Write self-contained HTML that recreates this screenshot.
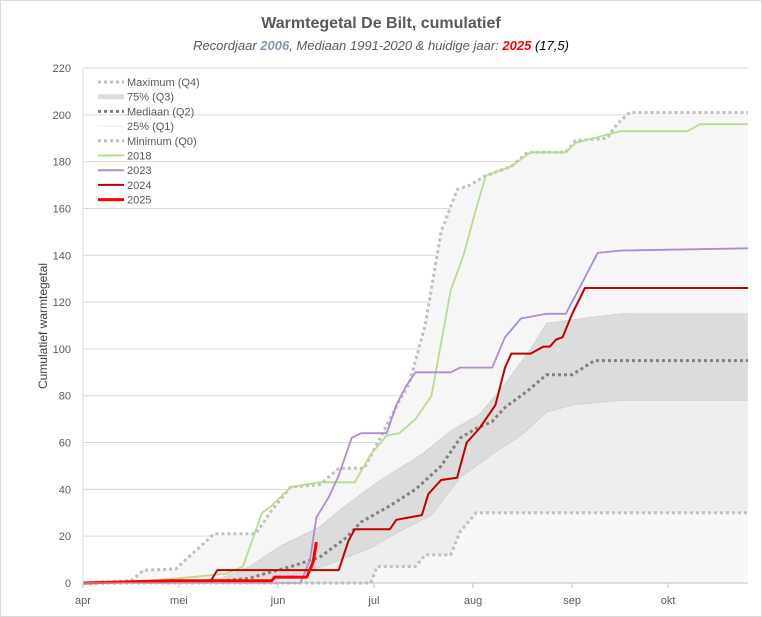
<!DOCTYPE html>
<html><head><meta charset="utf-8"><style>
body{margin:0;background:#fff;font-family:"Liberation Sans",sans-serif}
#c{position:absolute;left:0;top:0;width:760px;height:615px;border:1px solid #d9d9d9}
</style></head><body>
<div id="c">
<svg id="s" width="762" height="617" style="position:absolute;left:-1px;top:-1px"></svg>
</div>
<script>
const months=["apr","mei","jun","jul","aug","sep","okt"];
const monthDays=[0,30,61,91,122,153,183];
const yTicks=[0,20,40,60,80,100,120,140,160,180,200,220];
const q4=[[0,0],[15,1],[19,5.5],[29,6],[41,21],[54,21],[59,31],[65,41],[74,42],[80,49],[88,49],[96,70],[99,78],[102,85],[107,110],[112,150],[117,168],[121,170],[126,174],[134,178],[139,184],[151,184],[154,189],[164,190],[167,196],[171,201],[208,201]];
const q3=[[0,0],[30,0.5],[43,2],[52,7],[62,16],[74,24],[82,33],[93,44],[106,55],[115,65],[124,72],[132,85],[140,100],[145,111],[156,113],[168,115],[208,115]];
const q2=[[0,0],[40,0.5],[52,2],[57,4],[65,7],[74,11],[82,19],[87,26],[96,33],[104,40],[112,50],[118,62],[123,66],[128,69],[132,75],[139,82],[145,89],[153,89],[160,95],[168,95],[208,95]];
const q1=[[0,0],[50,0],[59,1],[68,4],[77,8],[90,15],[99,22],[109,29],[118,45],[128,55],[137,63],[145,73],[153,76],[168,78],[208,78]];
const q0=[[0,0],[90,0],[92,7],[104,7],[107,12],[115,12],[118,22],[123,30],[208,30]];
const y2018=[[0,0],[20,1],[30,2],[45,4],[50,7],[56,30],[59,33],[65,41],[74,43],[85,43],[90,55],[95,63],[99,64],[104,70],[109,80],[113,110],[115,125],[119,140],[123,160],[126,174],[134,178],[140,184],[151,184],[154,188],[168,193],[189,193],[193,196],[208,196]];
const y2023=[[0,0],[68,0],[71,10],[73,28],[77,37],[80,46],[84,62],[87,64],[95,64],[98,76],[101,84],[104,90],[115,90],[118,92],[128,92],[132,105],[137,113],[145,115],[151,115],[156,128],[161,141],[168,142],[208,143]];
const y2024=[[0,0],[28,1],[40,1],[42,5.5],[80,5.5],[83,18],[85,23],[96,23],[98,27],[106,29],[108,38],[112,44],[117,45],[120,60],[124,66],[129,76],[132,92],[134,98],[140,98],[144,101],[146,101],[148,104],[150,105],[153,115],[157,126],[208,126]];
const y2025=[[0,0],[28,1],[59,1],[60,2.5],[70,2.5],[72,9],[73,17.5]];

const X0=83,X1=748,Y0=583,Y1=68;
const xs=d=>X0+d*(X1-X0)/208;
const ys=v=>Y0-v*(Y0-Y1)/220;
const S=document.getElementById('s');const NS="http://www.w3.org/2000/svg";
function el(t,a,p){const e=document.createElementNS(NS,t);for(const k in a)e.setAttribute(k,a[k]);(p||S).appendChild(e);return e;}
function pts(d){return d.map(p=>xs(p[0]).toFixed(1)+","+ys(p[1]).toFixed(1)).join(" ");}
function area(d,fill,name){const p=el('polygon',{points:pts(d)+" "+xs(d[d.length-1][0])+","+Y0+" "+xs(d[0][0])+","+Y0,fill:fill});
}
function line(d,stroke,w,dash,name){const p=el('polyline',{points:pts(d),fill:'none',stroke:stroke,'stroke-width':w,'stroke-dasharray':dash||'none','stroke-linejoin':'round'});
}
function text(x,y,s,a,name){const t=el('text',a);t.setAttribute('x',x);t.setAttribute('y',y);t.textContent=s;return t;}

yTicks.forEach(v=>{const g=el('line',{x1:X0,x2:X1,y1:ys(v),y2:ys(v),stroke:'#d9d9d9','stroke-width':1});

text(71,ys(v)+4,v,{'font-size':11,fill:'#595959','text-anchor':'end'},'y-tick-label');});
area(q4,'#f6f6f6','area-max');
area(q3,'#dcdcdc','area-q3');
area(q1,'#eeeeee','area-q1');
area(q0,'#f8f8f8','area-min');
line(q1,'#bbbbbb',0.8,'1 1','line-q1');
line(q3,'#bbbbbb',0.8,'1 1','line-q3');
line(q4,'#bfbfbf',3,'3 3','line-max');
line(q0,'#bfbfbf',3,'3 3','line-min');
line(q2,'#7f7f7f',3,'3 3','line-median');
line(y2018,'#b5dc8e',1.8,null,'line-2018');
line(y2023,'#b08ad0',1.8,null,'line-2023');
line(y2024,'#c00000',2,null,'line-2024');
line(y2025,'#ff0000',3,null,'line-2025');
const ax=el('line',{x1:X0,x2:X1,y1:Y0,y2:Y0,stroke:'#bfbfbf'});
const ay=el('line',{x1:X0,x2:X0,y1:Y1,y2:Y0,stroke:'#d9d9d9'});
months.forEach((m,i)=>{const x=xs(monthDays[i]);const t=el('line',{x1:x,x2:x,y1:Y0,y2:Y0+5,stroke:'#bfbfbf'});

text(x,Y0+21,m,{'font-size':11,fill:'#595959','text-anchor':'middle'},'x-tick-label');});
text(381,28,"Warmtegetal De Bilt, cumulatief",{'font-size':16,'font-weight':'bold',fill:'#595959','text-anchor':'middle'},'chart-title');
const st=text(381,50,"",{'font-size':13,'font-style':'italic',fill:'#595959','text-anchor':'middle'},'chart-subtitle');
st.innerHTML='Recordjaar <tspan font-weight="bold" fill="#8497b0">2006</tspan>, Mediaan 1991-2020 &amp; huidige jaar: <tspan font-weight="bold" fill="#ff0000">2025</tspan> <tspan fill="#000">(17,5)</tspan>';
text(0,0,"Cumulatief warmtegetal",{'font-size':12,fill:'#404040','text-anchor':'middle',transform:'translate(47,326) rotate(-90)'},'y-axis-title');
const leg=[["Maximum (Q4)","#bfbfbf",3,"3 3"],["75% (Q3)","#dcdcdc",5,null],["Mediaan (Q2)","#7f7f7f",3,"3 3"],["25% (Q1)","#cccccc",0.8,"1 1"],["Minimum (Q0)","#bfbfbf",3,"3 3"],["2018","#b5dc8e",2,null],["2023","#b08ad0",2,null],["2024","#c00000",2,null],["2025","#ff0000",3,null]];
leg.forEach((l,i)=>{const y=82+i*14.7;
const g=el('line',{x1:98,x2:124,y1:y,y2:y,stroke:l[1],'stroke-width':l[2],'stroke-dasharray':l[3]||'none'});

text(127,y+4,l[0],{'font-size':11,fill:'#595959'},'legend-entry');});
</script>
</body></html>
